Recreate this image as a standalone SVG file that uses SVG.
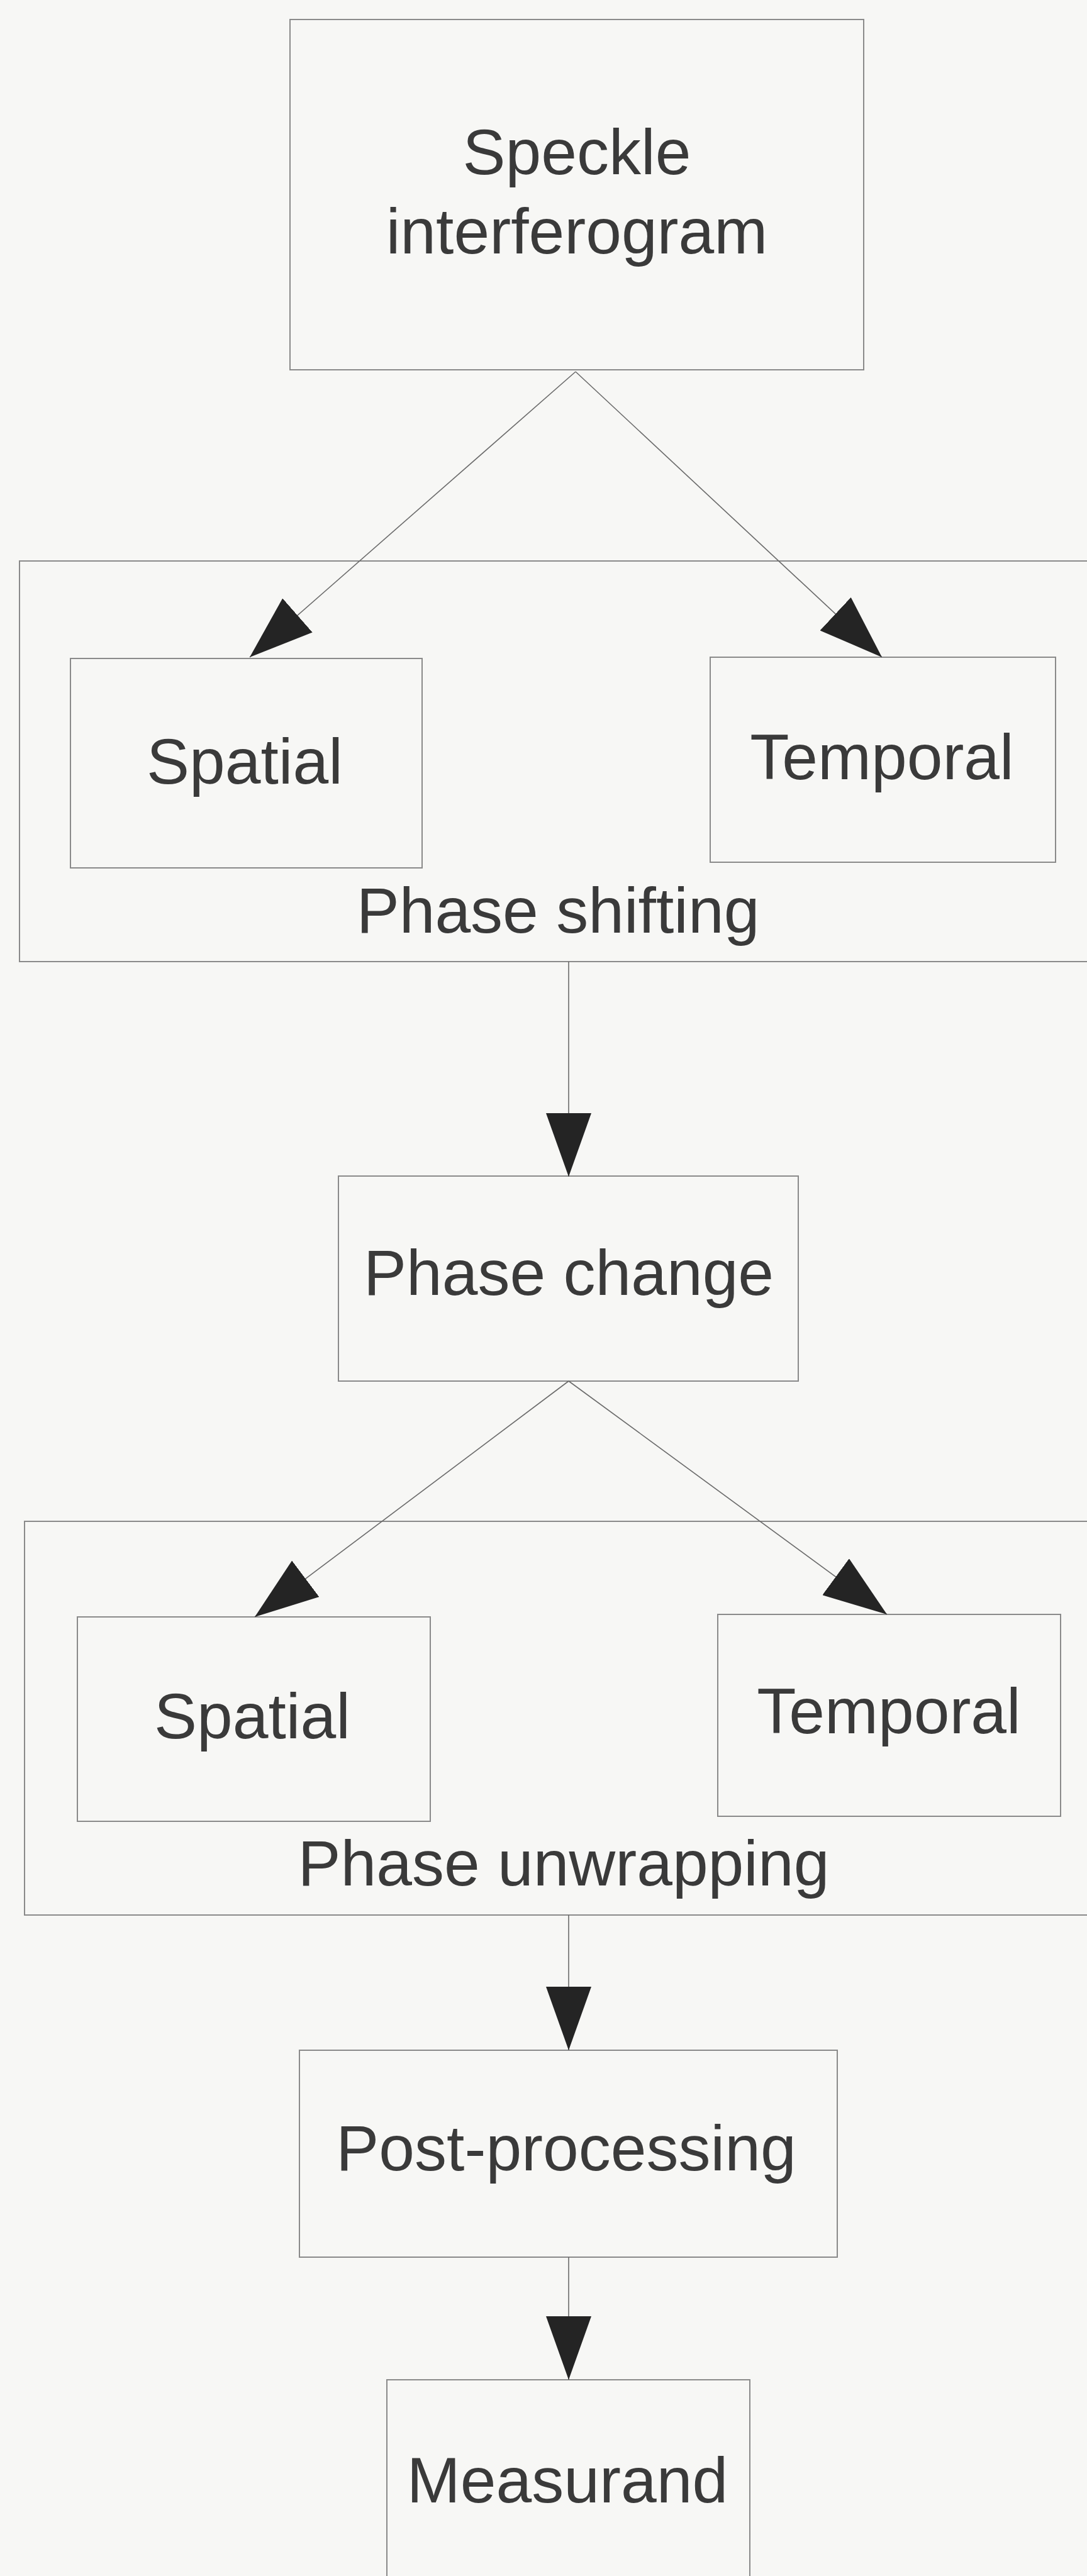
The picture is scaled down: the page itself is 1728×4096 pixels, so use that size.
<svg xmlns="http://www.w3.org/2000/svg" width="1728" height="4096" viewBox="0 0 1728 4096">
<style>
.box{fill:none;stroke:#8a8a8a;stroke-width:2}
.lbl{font-family:"Liberation Sans",Arial,sans-serif;font-size:102px;fill:#3a3a3a;text-anchor:middle}
.con{stroke:#6a6a6a;stroke-width:1.6;fill:none}
</style>
<defs>
<marker id="arr" markerUnits="userSpaceOnUse" viewBox="0 0 101 72" refX="101" refY="36" markerWidth="101" markerHeight="72" orient="auto">
<path d="M0,0 L101,36 L0,72 Z" fill="#242424"/>
</marker>
</defs>
<rect x="0" y="0" width="1728" height="4096" fill="#f7f7f5"/>
<g id="phase-shifting">
<rect class="box" x="31" y="892" width="1720" height="637"/>
<text class="lbl" x="887" y="1483">Phase shifting</text>
</g>
<g id="phase-unwrapping">
<rect class="box" x="39" y="2419" width="1720" height="626"/>
<text class="lbl" x="896" y="2998">Phase unwrapping</text>
</g>
<g id="speckle">
<rect class="box" x="461" y="31" width="912" height="557"/>
<text class="lbl" x="917" y="277">Speckle</text>
<text class="lbl" x="917" y="403">interferogram</text>
</g>
<g id="spatial1">
<rect class="box" x="112" y="1047" width="559" height="333"/>
<text class="lbl" x="389" y="1246">Spatial</text>
</g>
<g id="temporal1">
<rect class="box" x="1129" y="1045" width="549" height="326"/>
<text class="lbl" x="1402" y="1239">Temporal</text>
</g>
<g id="phase-change">
<rect class="box" x="538" y="1870" width="731" height="326"/>
<text class="lbl" x="904" y="2059">Phase change</text>
</g>
<g id="spatial2">
<rect class="box" x="123" y="2571" width="561" height="325"/>
<text class="lbl" x="401" y="2764">Spatial</text>
</g>
<g id="temporal2">
<rect class="box" x="1141" y="2567" width="545" height="321"/>
<text class="lbl" x="1413" y="2756">Temporal</text>
</g>
<g id="post-processing">
<rect class="box" x="476" y="3260" width="855" height="329"/>
<text class="lbl" x="900" y="3451">Post-processing</text>
</g>
<g id="measurand">
<rect class="box" x="615" y="3784" width="577" height="340"/>
<text class="lbl" x="902" y="3979">Measurand</text>
</g>
<g id="connectors">
<line class="con" x1="915" y1="591" x2="397" y2="1045" marker-end="url(#arr)"/>
<line class="con" x1="915" y1="591" x2="1402" y2="1045" marker-end="url(#arr)"/>
<line class="con" x1="904" y1="1529" x2="904" y2="1871" marker-end="url(#arr)"/>
<line class="con" x1="904" y1="2196" x2="405" y2="2571" marker-end="url(#arr)"/>
<line class="con" x1="904" y1="2196" x2="1410" y2="2567" marker-end="url(#arr)"/>
<line class="con" x1="904" y1="3045" x2="904" y2="3260" marker-end="url(#arr)"/>
<line class="con" x1="904" y1="3589" x2="904" y2="3784" marker-end="url(#arr)"/>
</g>
</svg>
